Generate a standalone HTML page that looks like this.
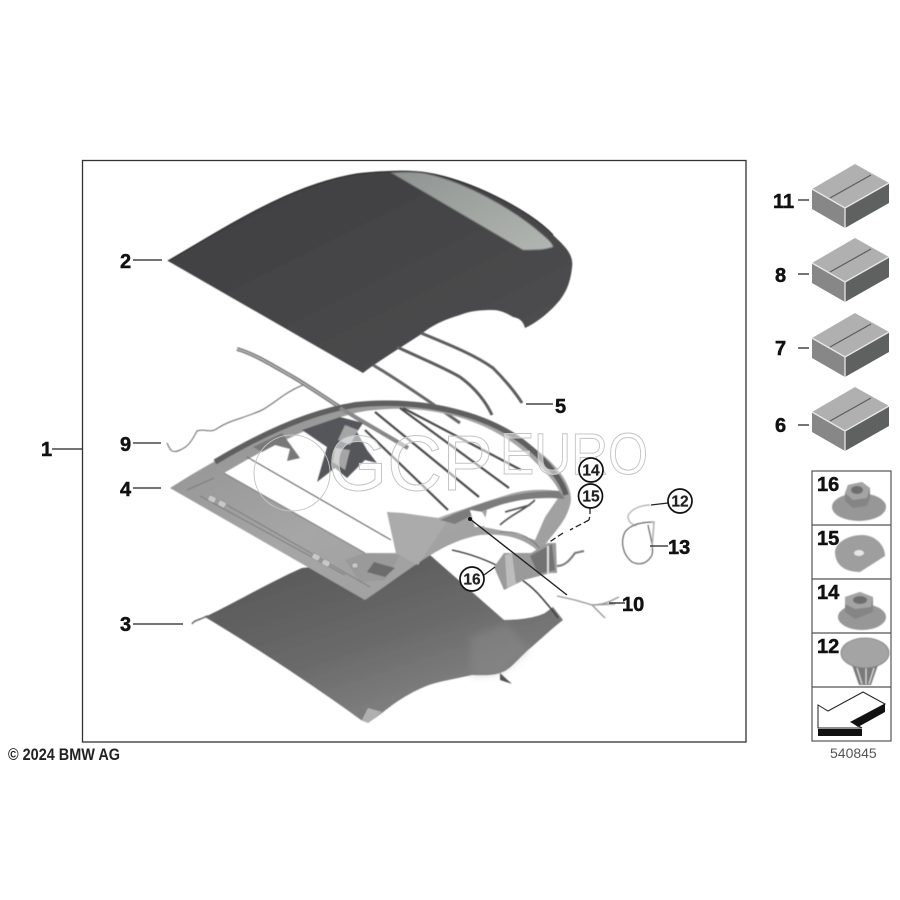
<!DOCTYPE html>
<html><head><meta charset="utf-8"><style>
html,body{margin:0;padding:0;background:#fff}
svg{display:block}
.n{font:bold 20px "Liberation Sans",sans-serif;fill:#111;stroke:#111;stroke-width:.5}
.c{font:bold 15.5px "Liberation Sans",sans-serif;fill:#222;text-anchor:middle;stroke:#222;stroke-width:.2}
</style></head><body>
<svg width="900" height="900" viewBox="0 0 900 900" xmlns="http://www.w3.org/2000/svg">
<defs>
<linearGradient id="top" x1="0" y1="0" x2="1" y2="1"><stop offset="0" stop-color="#3f3f41"/><stop offset=".55" stop-color="#464648"/><stop offset="1" stop-color="#525254"/></linearGradient>
<linearGradient id="win" x1="0" y1="0" x2="1" y2="1"><stop offset="0" stop-color="#8f9592"/><stop offset="1" stop-color="#b2b6b3"/></linearGradient>
<linearGradient id="frame" x1="0" y1="0" x2="1" y2="1"><stop offset="0" stop-color="#8f8f8f"/><stop offset=".5" stop-color="#a6a6a6"/><stop offset="1" stop-color="#9d9d9d"/></linearGradient>
<linearGradient id="liner" x1="0.1" y1="0" x2="0.8" y2="1"><stop offset="0" stop-color="#565656"/><stop offset=".5" stop-color="#696969"/><stop offset="1" stop-color="#8b8b8b"/></linearGradient>
<filter id="b" x="-5%" y="-5%" width="110%" height="110%"><feGaussianBlur stdDeviation=".5"/></filter>
<filter id="s" x="-20%" y="-20%" width="140%" height="140%"><feGaussianBlur stdDeviation="4"/></filter>
<g id="box">
<path d="M812,189L855,164L889,183L845,208Z" fill="#b0b0b0"/>
<path d="M812,189L845,208V228L812,209Z" fill="#878787"/>
<path d="M845,208L889,183V203L845,228Z" fill="#5e6160"/>
<path d="M812,189L845,208L889,183M845,208V228" fill="none" stroke="#e8e8e8" stroke-width="1.3"/>
<path d="M830,198L871,175" stroke="#5c5c5c" stroke-width="1.2"/>
</g>
</defs>
<rect width="900" height="900" fill="#fff"/>
<rect x="82.5" y="160.5" width="663.5" height="581.5" fill="none" stroke="#333" stroke-width="1.3"/>

<g filter="url(#b)">
<!-- liner -->
<path d="M205,617C240,600 270,582 302,568L430,555L504,620C518,620 535,618 545,613L553,607L563,620C550,630 538,642 528,650C515,662 510,670 500,673C490,676 480,675 472,675C450,680 435,682 424,687C405,695 392,705 382,713L368,723L361,720C320,690 260,650 205,617Z" fill="url(#liner)"/>
<path d="M192,624C194,620 200,620 207,616L212,619" fill="none" stroke="#666" stroke-width="1.5"/>
<path d="M470,637L507,623L528,650L500,673L472,675Z" fill="#8c8c8c" opacity=".45" filter="url(#s)"/>
<path d="M500,673L512,684L500,680Z" fill="#555"/>
<path d="M452,550C490,558 525,578 541,597C548,605 554,612 558,618" fill="none" stroke="#333" stroke-width="1.4"/>
<path d="M362,720L368,708L382,712L368,723Z" fill="#b0b0b0"/>

<!-- soft top -->
<path d="M168,261C230,225 290,185 357,174C385,171 410,170 427,173C470,180 530,210 553,235C566,247 574,255 572,268C570,285 565,293 560,300C550,312 538,322 525,328C523,320 518,318 513,317C505,312 498,310 493,310C480,310 470,311 460,315C440,321 430,327 420,335C400,348 380,360 363,373Z" fill="url(#top)"/>
<path d="M168,261C230,225 290,185 357,174C385,171 410,170 427,173C470,180 530,210 553,235" fill="none" stroke="#2c2c2c" stroke-width="1.2"/>
<path d="M392,173C405,172 417,172 427,174C465,182 515,210 543,235C549,240 553,244 553,247C545,250 535,250 523,250Z" fill="url(#win)" stroke="#777" stroke-width="1"/>
<!-- seals -->
<path d="M421,333C450,345 475,355 493,368C505,380 515,392 522,403" fill="none" stroke="#5d5d5d" stroke-width="3"/>
<path d="M397,347C425,360 445,368 460,377C475,388 485,400 492,415" fill="none" stroke="#5d5d5d" stroke-width="3"/>
<path d="M373,365C395,378 412,390 427,400L460,423" fill="none" stroke="#666" stroke-width="3"/>
<path d="M237,349C255,354 275,367 293,377C315,390 340,408 360,420L408,448" fill="none" stroke="#777" stroke-width="4"/>
<path d="M237,349C255,354 275,367 293,377C315,390 340,408 360,420L408,448" fill="none" stroke="#bbb" stroke-width="1.2"/>

<!-- wire 9 -->
<path d="M167,443C170,450 172,454 180,450C190,446 193,438 197,431C205,428 210,434 218,428C230,420 245,418 262,410C275,403 285,392 303,385" fill="none" stroke="#666" stroke-width="1"/>

<!-- frame -->
<path fill-rule="evenodd" d="M170,488C230,450 300,415 355,402C420,395 490,410 530,445C560,465 575,490 570,505C565,525 550,535 540,553C525,538 505,533 480,535C440,542 410,570 365,600ZM224,473L250,458C290,437 340,412 375,410C440,403 500,425 535,462C548,474 556,484 559,491C545,489 525,489 507,495C490,500 470,507 452,513L438,518L387,512L396,553L365,553Z" fill="url(#frame)"/>
<path d="M487,510L521,497L558,498L545,517L535,540L514,533L484,527Z" fill="#fff"/>
<path d="M215,462C260,435 310,412 355,405C420,398 490,413 530,448C550,465 562,480 566,495" fill="none" stroke="#5f5f5f" stroke-width="5.500"/>
<!-- flap -->
<path d="M253,447L282,433L300,458L287,461L290,449L275,445L262,452Z" fill="#787878"/>
<!-- bars -->
<path d="M375,412L479,497M400,408L509,488M403,408L521,470M365,430L448,510" stroke="#4c4c4c" stroke-width="2.2" fill="none"/>
<path d="M247,457L391,540" stroke="#555" stroke-width="1" fill="none"/>
<path d="M340,408L408,448" fill="none" stroke="#888" stroke-width="3.5"/>
<!-- mech left -->
<path d="M302,430L340,417L363,423L357,432L367,450L377,463L365,460L347,478L335,468L317,482L327,447Z" fill="#55575a"/>
<path d="M345,425L358,430L350,445L338,440ZM335,448L350,450L345,470L333,462Z" fill="#a5a5a5"/>
<!-- panel -->
<path d="M387,512L403,513L438,518L452,514L418,565L396,553Z" fill="#ababab"/>
<path d="M224,473L365,553" stroke="#777" stroke-width="1"/>
<path d="M365,553L400,555L385,580L360,582L345,560Z" fill="#9a9a9a"/>
<path d="M374,562L395,568L385,577L367,572Z" fill="#6c6c6c"/>
<!-- rear frame detail -->
<path d="M187,490L214,478M227,505L370,587M200,496L345,575" stroke="#7c7c7c" stroke-width="1" fill="none"/>
<g fill="#c8c8c8" stroke="#777" stroke-width=".5">
<rect x="208" y="496" width="8" height="6" rx="2" transform="rotate(28 212 499)"/><rect x="218" y="501" width="8" height="6" rx="2" transform="rotate(28 222 504)"/>
<rect x="312" y="554" width="8" height="6" rx="2" transform="rotate(28 316 557)"/><rect x="322" y="560" width="8" height="6" rx="2" transform="rotate(28 326 563)"/>
<rect x="352" y="563" width="6" height="5" rx="2"/>
</g>
<!-- upper band shading -->
<path d="M440,520C470,507 510,490 559,491L565,499C525,495 490,505 455,524Z" fill="#7c7c7c"/>
<path d="M470,510L482,512L490,525L475,527Z" fill="#fff"/>
<path d="M500,525C510,515 525,510 535,500M505,512L530,505" stroke="#555" stroke-width="2" fill="none"/>
<path d="M500,532C520,530 535,540 542,552" fill="none" stroke="#777" stroke-width="1"/>
<!-- mech right -->
<path d="M494,567L504,553L531,553L548,543L556,543L557,573L551,573L524,580L504,590Z" fill="#9a9a9a"/>
<path d="M505,555L512,553L516,584L507,588Z" fill="#bdbdbd"/>
<path d="M530,556L552,544L555,570L538,574Z" fill="#737373"/>
<path d="M548,546V574" stroke="#ddd" stroke-width="2"/>
<path d="M557,566C565,566 570,560 575,553L584,551" fill="none" stroke="#777" stroke-width="2"/>
<!-- wire 10 -->
<path d="M557,596L575,600L592,605L605,618M592,605C605,605 612,600 619,597M592,605L615,604" fill="none" stroke="#999" stroke-width="1.4"/>
<!-- wires 12/13 -->
<path d="M650,505C640,505 630,510 628,516C628,522 632,524 636,526" fill="none" stroke="#aaa" stroke-width="1.2"/>
<path d="M654,522C640,522 630,525 625,532C620,542 623,555 632,562C640,566 648,563 652,555C654,548 650,535 648,525" fill="none" stroke="#666" stroke-width="1.2"/>
<path d="M651,522L654,522L652,548" fill="none" stroke="#aaa" stroke-width="1.5"/>
</g>

<!-- watermark -->
<g fill="#fff" fill-opacity=".5" stroke="#c4c4c4" stroke-width="1">
<circle cx="292" cy="473" r="38" fill="none"/>
<text x="328" y="490" font-family="Liberation Sans" font-size="78" textLength="165" lengthAdjust="spacingAndGlyphs">GCP</text>
<text x="500" y="474" font-family="Liberation Sans" font-size="58" textLength="148" lengthAdjust="spacingAndGlyphs">EURO</text>
</g>

<!-- leaders -->
<g stroke="#222" fill="none" stroke-width="1.3">
<path d="M52,449H82M133,260H162M133,443H161M133,488H161M133,624H183M526,404H553"/>
<path d="M470,519L567,595" stroke-width="1.4"/>
<path d="M609,603H625"/>
<path d="M651,505L668,503M650,546H668"/>
<path d="M590,508V515L589,520M589,520L570,530M563,533L548,543" stroke-dasharray="6 3"/>
<path d="M495,567L484,575"/>
<path d="M798,200H809M798,274H809M798,348H809M798,425H809"/>
</g>
<circle cx="470" cy="519" r="2" fill="#111"/>

<!-- labels -->
<text class="n" x="41" y="456">1</text>
<text class="n" x="120" y="268">2</text>
<text class="n" x="120" y="631">3</text>
<text class="n" x="120" y="496">4</text>
<text class="n" x="555" y="413">5</text>
<text class="n" x="120" y="451">9</text>
<text class="n" x="622" y="611">10</text>
<text class="n" x="668" y="554">13</text>
<text class="n" x="773" y="208">11</text>
<text class="n" x="775" y="282">8</text>
<text class="n" x="775" y="355">7</text>
<text class="n" x="775" y="432">6</text>
<g fill="#fff" stroke="#111" stroke-width="1.7">
<circle cx="591" cy="470" r="12"/><circle cx="590.500" cy="496" r="12"/><circle cx="680" cy="501" r="12"/><circle cx="472" cy="579" r="12"/>
</g>
<text class="c" x="591" y="475.500">14</text>
<text class="c" x="591" y="501.500">15</text>
<text class="c" x="680" y="506.500">12</text>
<text class="c" x="472" y="584.500">16</text>

<!-- boxes -->
<use href="#box"/>
<use href="#box" y="74"/>
<use href="#box" y="149"/>
<use href="#box" y="223"/>

<!-- parts table -->
<g fill="none" stroke="#555" stroke-width="1.2">
<rect x="812" y="471" width="79" height="270"/>
<path d="M812,525H891M812,579H891M812,633H891M812,687H891"/>
</g>
<g filter="url(#b)">
<ellipse cx="859" cy="507" rx="27" ry="14" fill="#979797"/>
<path d="M848,485L862,482L870,488L870,498L867,506L853,508L845,501V493Z" fill="#858585"/>
<path d="M848,485L862,482L870,488L867,498L853,500L845,493Z" fill="#a4a4a4"/>
<ellipse cx="857" cy="490" rx="6" ry="4" fill="#6e6e6e"/>
<path d="M835,552C835,543 848,535 862,535C875,535 885,545 885,556L860,572C845,572 835,565 835,552Z" fill="#9e9e9e"/>
<ellipse cx="859" cy="553" rx="5" ry="3" fill="#e6e6e6"/>
<ellipse cx="862" cy="617" rx="24" ry="13" fill="#979797"/>
<path d="M845,597L860,592L873,597V612L855,619L845,612Z" fill="#858585"/>
<path d="M845,597L860,592L873,597L871,607L855,609L845,604Z" fill="#a4a4a4"/>
<ellipse cx="860" cy="600" rx="7" ry="4" fill="#6e6e6e"/>
<path d="M852,665L878,665L871,685H859Z" fill="#7a7a7a"/>
<path d="M857,668L862,684M866,668V684M874,668L869,684" stroke="#ddd" stroke-width="1.2"/>
<ellipse cx="865" cy="653" rx="24" ry="15" fill="#a4a4a4" stroke="#7d7d7d" stroke-width=".8"/>
</g>
<text class="n" x="817" y="491">16</text>
<text class="n" x="817" y="545">15</text>
<text class="n" x="817" y="599">14</text>
<text class="n" x="817" y="653">12</text>
<!-- arrow icon -->
<path d="M818,705L828,711L863,692L885,704L851,722L862,728H818Z" fill="#fff" stroke="#222" stroke-width="1"/>
<path d="M851,722L885,704V712L858,727Z" fill="#111"/>
<path d="M818,729H862V736H818Z" fill="#111"/>

<text x="8" y="760" font-family="Liberation Sans" font-size="17" font-weight="bold" fill="#222" textLength="112" lengthAdjust="spacingAndGlyphs">© 2024 BMW AG</text>
<text x="830" y="758" font-family="Liberation Sans" font-size="14" fill="#555">540845</text>
</svg>
</body></html>
